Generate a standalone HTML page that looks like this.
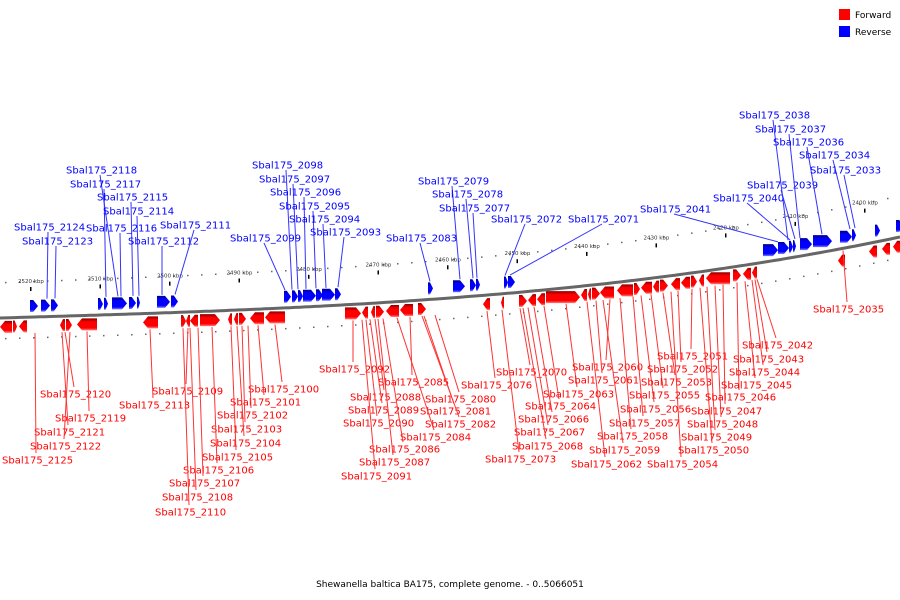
<!DOCTYPE html>
<html><head><meta charset="utf-8"><style>
html,body{margin:0;padding:0;background:#fff;}
svg{display:block;font-family:"DejaVu Sans","Liberation Sans",sans-serif;}
</style></head><body>
<svg id="chart" width="900" height="600" viewBox="0 0 900 600">
<defs>
<linearGradient id="gb" x1="0" y1="0" x2="0" y2="1"><stop offset="0" stop-color="#00008b"/><stop offset="0.3" stop-color="#0000ff"/><stop offset="0.8" stop-color="#0000ff"/><stop offset="1" stop-color="#8080ff"/></linearGradient>
<linearGradient id="gr" x1="0" y1="0" x2="0" y2="1"><stop offset="0" stop-color="#8b0000"/><stop offset="0.3" stop-color="#ff0000"/><stop offset="0.8" stop-color="#ff0000"/><stop offset="1" stop-color="#ff8080"/></linearGradient>
</defs>
<g>
<rect x="839" y="9" width="11" height="11" fill="#f00"/>
<text x="855" y="18" font-size="9" fill="#000">Forward</text>
<rect x="839" y="26" width="11" height="11" fill="#00f"/>
<text x="855" y="35" font-size="9" fill="#000">Reverse</text>
</g>
<text x="450" y="587" font-size="9" text-anchor="middle" fill="#000">Shewanella baltica BA175, complete genome. - 0..5066051</text>
</svg>
<script>
const scaleLabels=["2520 kbp","2510 kbp","2500 kbp","2490 kbp","2480 kbp","2470 kbp","2460 kbp","2450 kbp","2440 kbp","2430 kbp","2420 kbp","2410 kbp","2400 kbp"];
const blueStarts=[30,41,51,98,104,112,129,137,157,171,284,292,298,303,316,322,335,428,453,470,476,504,508,763,778,789,793,800,813,840,852,875,896];
const blueEnds=[38,50,58,103,108,127,136,140,170,178,291,298,303,316,323,335,341,433,465,476,480,508,515,778,789,793,796,812,832,852,856,880,904];
const redStarts=[0,13,19,60,66,77,143,181,186,190,200,228,234,239,250,265,345,362,371,376,386,400,418,483,501,519,528,537,546,581,588,592,600,617,634,641,653,660,671,681,691,699,706,733,743,752];
const redEnds=[12,17,27,65,72,97,158,186,190,198,220,232,238,246,264,285,361,368,375,384,399,413,426,490,504,527,536,545,580,587,591,600,614,633,640,652,659,668,680,690,697,704,730,741,751,757];
const redUpStarts=[838,869,882,893];
const redUpEnds=[845,877,890,900];
const blueNames=["2118","2117","2115","2114","2116","2124","2123","2112","2111","2099","2098","2097","2096","2095","2094","2093","2083","2079","2078","2077","2072","2071","2041","2040","2039","2038","2037","2036","2034","2033"];
const blueLabelX=[66,70,97,103,86,14,22,128,160,230,252,259,270,279,289,310,386,418,432,439,491,568,640,713,747,739,755,773,799,810];
const blueLabelY=[170,184,197,211,228,227,241,241,225,238,165,179,192,206,219,232,238,181,194,208,219,219,209,198,185,115,129,142,155,170];
const blueGeneX=[118,106,133,139,121,47,55,162,175,285,292,298,306,316,326,338,430,460,473,477,505,510,778,790,795,788,800,822,850,855];
const redNames=["2120","2119","2121","2122","2125","2109","2113","2100","2101","2102","2103","2104","2105","2106","2107","2108","2110","2092","2085","2088","2089","2080","2081","2090","2082","2084","2086","2087","2091","2076","2070","2063","2064","2066","2067","2068","2073","2060","2061","2055","2056","2057","2058","2059","2062","2051","2052","2053","2054","2050","2049","2048","2047","2046","2045","2044","2043","2042","2035"];
const redLabelX=[40,55,34,30,2,152,119,248,230,217,211,210,202,183,169,162,155,319,378,350,348,425,420,343,425,400,369,359,341,461,496,543,525,518,514,512,485,572,568,629,620,609,597,589,571,657,647,641,647,678,681,687,691,705,721,729,733,742,813];
const redLabelY=[394,418,432,446,460,391,405,389,402,415,429,443,457,470,483,497,512,369,382,397,410,399,411,423,424,437,449,462,476,385,372,394,406,419,432,446,459,367,380,395,409,423,436,450,464,356,369,382,464,450,437,424,411,397,385,372,359,345,309];
const redGeneX=[65,87,62,70,35,188,150,275,258,248,242,237,231,212,198,190,183,353,410,375,370,435,424,366,422,397,383,378,362,487,520,566,544,534,528,523,502,610,596,651,641,633,620,603,587,692,678,663,671,700,707,715,723,737,745,752,755,757,843];

const NS="http://www.w3.org/2000/svg";
const svg=document.getElementById('chart');
function axisY(x){return 318-0.0293*x-7.5e-8*x*x*x;}
function mk(tag,attrs){const e=document.createElementNS(NS,tag);for(const k in attrs)e.setAttribute(k,attrs[k]);return e;}

// tick dots
for(let x=5;x<900;x+=14){
  const d1=mk('rect',{x:x,y:axisY(x)-36-(x/900)*6,width:1.5,height:1.5,fill:'#666'});
  
  
  svg.appendChild(d1);
  const d2=mk('rect',{x:x,y:axisY(x)+20,width:1.5,height:1.5,fill:'#666'});
  
  
  svg.appendChild(d2);
}
// scale labels
scaleLabels.forEach((s,i)=>{
  const x=18+i*69.5;
  const t=mk('text',{x:x,y:axisY(x+12)-34-(x/900)*6,'font-size':5.5,fill:'#333'});
  t.textContent=s;
  
  
  svg.appendChild(t);
  const m=mk('rect',{x:x+12,y:axisY(x+12)-38-(x/900)*6+8,width:1.5,height:4,fill:'#000'});
  
  
  svg.appendChild(m);
});
// axis
let p="M0,"+axisY(0);
for(let x=5;x<=900;x+=5)p+=" L"+x+","+axisY(x).toFixed(1);
const ax=mk('path',{d:p,stroke:'#666',fill:'none','stroke-width':3});


svg.appendChild(ax);

function gene(s,e,top,h,fill,dir,name){
  const w=e-s,hw=Math.min(5,w*0.6);
  let pts;
  if(dir>0)pts=[[s,top],[e-hw,top],[e,top+h/2],[e-hw,top+h],[s,top+h]];
  else pts=[[e,top],[s+hw,top],[s,top+h/2],[s+hw,top+h],[e,top+h]];
  const g=mk('polygon',{points:pts.map(q=>q.join(',')).join(' '),fill:fill});
  
  
  svg.appendChild(g);
}
blueStarts.forEach((s,i)=>{const c=(s+blueEnds[i])/2;gene(s,blueEnds[i],axisY(c)-17,12,'url(#gb)',1,'reverse-gene');});
redStarts.forEach((s,i)=>{const c=(s+redEnds[i])/2;gene(s,redEnds[i],axisY(c)+3,12,'url(#gr)',i%3===1?1:-1,'forward-gene');});
redUpStarts.forEach((s,i)=>{const c=(s+redUpEnds[i])/2;gene(s,redUpEnds[i],axisY(c)-(i===0?-6:-3)-(i===0?0:0),12,'url(#gr)',-1,'forward-gene');});

// labels
blueNames.forEach((n,i)=>{
  const lx=blueLabelX[i],ly=blueLabelY[i],gx=blueGeneX[i];
  const l=mk('line',{x1:lx+34,y1:ly+5,x2:gx,y2:axisY(gx)-18,stroke:'#33f','stroke-width':1});
  
  
  svg.appendChild(l);
  const t=mk('text',{x:lx,y:ly+3.5,'font-size':10,fill:'#00f'});
  t.textContent='Sbal175_'+n;
  
  
  svg.appendChild(t);
});
redNames.forEach((n,i)=>{
  const lx=redLabelX[i],ly=redLabelY[i],gx=redGeneX[i];
  const gy=n==="2035"?axisY(gx)+2:axisY(gx)+16;
  const l=mk('line',{x1:lx+34,y1:ly-7,x2:gx,y2:gy,stroke:'#f33','stroke-width':1});
  
  
  svg.appendChild(l);
  const t=mk('text',{x:lx,y:ly+3.5,'font-size':10,fill:'#f00'});
  t.textContent='Sbal175_'+n;
  
  
  svg.appendChild(t);
});
</script>
</body></html>
